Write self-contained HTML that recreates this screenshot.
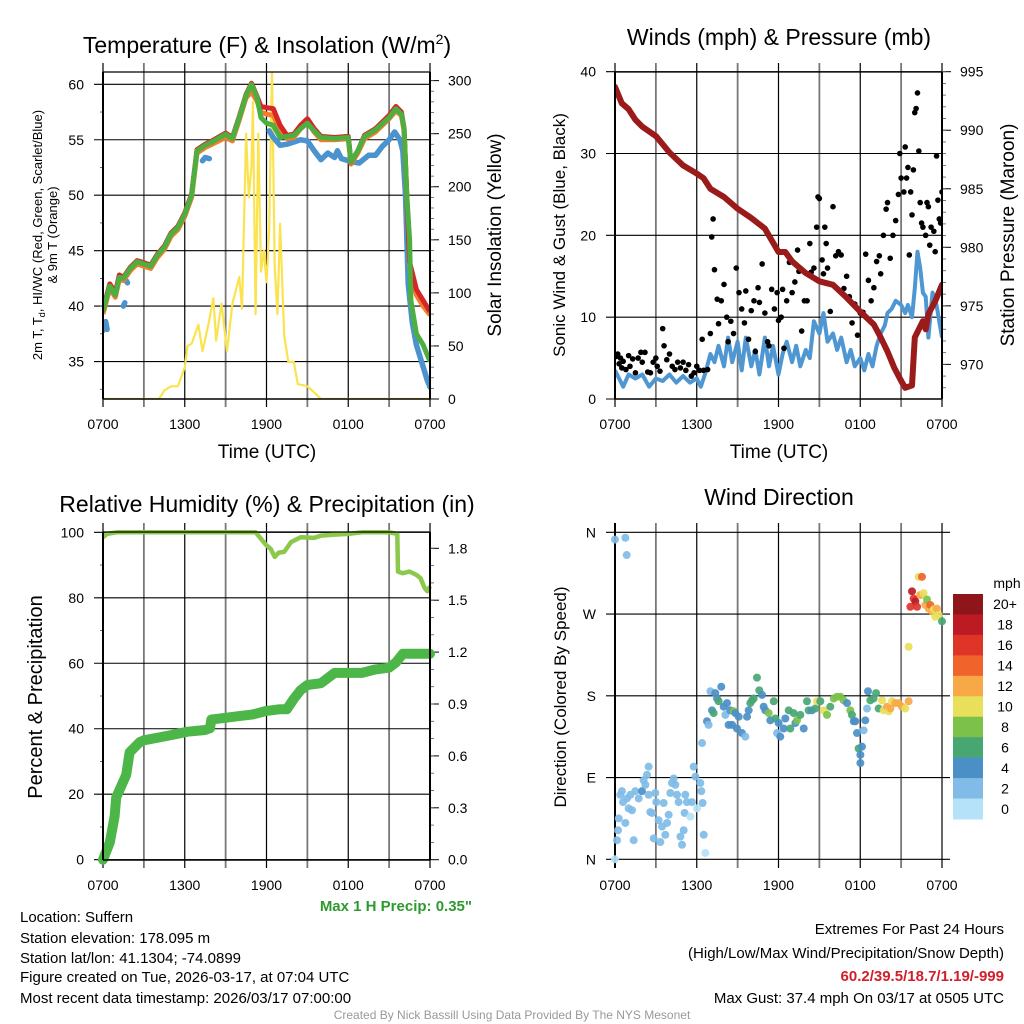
<!DOCTYPE html>
<html><head><meta charset="utf-8"><style>
html,body{margin:0;padding:0;background:#fff;}
svg{display:block;font-family:"Liberation Sans",sans-serif;}
</style></head><body>
<svg id="fig" width="1024" height="1024" viewBox="0 0 1024 1024" xmlns="http://www.w3.org/2000/svg">
<rect width="1024" height="1024" fill="#fff"/>
<defs>
<clipPath id="c1"><rect x="103" y="72" width="327" height="327"/></clipPath>
<clipPath id="c2"><rect x="615" y="72" width="327" height="327"/></clipPath>
<clipPath id="c3"><rect x="103" y="532" width="327" height="328"/></clipPath>
<clipPath id="c4"><rect x="612" y="528" width="334" height="336"/></clipPath>
</defs>
<!-- titles -->
<text x="267" y="53" font-size="23" text-anchor="middle">Temperature (F) &amp; Insolation (W/m<tspan font-size="14" dy="-9">2</tspan><tspan dy="9">)</tspan></text>
<text x="779" y="45" font-size="23" text-anchor="middle">Winds (mph) &amp; Pressure (mb)</text>
<text x="267" y="512" font-size="23" text-anchor="middle">Relative Humidity (%) &amp; Precipitation (in)</text>
<text x="779" y="505" font-size="23" text-anchor="middle">Wind Direction</text>
<!-- axis titles -->
<text x="267" y="458" font-size="19" text-anchor="middle">Time (UTC)</text>
<text x="779" y="458" font-size="19" text-anchor="middle">Time (UTC)</text>
<text font-size="13" text-anchor="middle" transform="translate(42,235) rotate(-90)">2m T, T<tspan font-size="9" dy="3">d</tspan><tspan dy="-3">, HI/WC (Red, Green, Scarlet/Blue)</tspan></text>
<text font-size="13" text-anchor="middle" transform="translate(57,235) rotate(-90)">&amp; 9m T (Orange)</text>
<text font-size="19" text-anchor="middle" transform="translate(501,235) rotate(-90)">Solar Insolation (Yellow)</text>
<text font-size="17" text-anchor="middle" transform="translate(565,235) rotate(-90)">Sonic Wind &amp; Gust (Blue, Black)</text>
<text font-size="19" text-anchor="middle" transform="translate(1014,235) rotate(-90)">Station Pressure (Maroon)</text>
<text font-size="20" text-anchor="middle" transform="translate(42,697) rotate(-90)">Percent &amp; Precipitation</text>
<text font-size="17" text-anchor="middle" transform="translate(566,697) rotate(-90)">Direction (Colored By Speed)</text>
<!-- footer -->
<text x="472" y="911" font-size="15" font-weight="bold" fill="#2e9a2e" text-anchor="end">Max 1 H Precip: 0.35"</text>
<g font-size="15">
<text x="20" y="922">Location: Suffern</text>
<text x="20" y="943">Station elevation: 178.095 m</text>
<text x="20" y="963">Station lat/lon: 41.1304; -74.0899</text>
<text x="20" y="982">Figure created on Tue, 2026-03-17, at 07:04 UTC</text>
<text x="20" y="1003">Most recent data timestamp: 2026/03/17 07:00:00</text>
</g>
<g font-size="15" text-anchor="end">
<text x="1004" y="934">Extremes For Past 24 Hours</text>
<text x="1004" y="958">(High/Low/Max Wind/Precipitation/Snow Depth)</text>
<text x="1004" y="981" fill="#d0202a" font-weight="bold">60.2/39.5/18.7/1.19/-999</text>
<text x="1004" y="1003">Max Gust: 37.4 mph On 03/17 at 0505 UTC</text>
</g>
<text x="512" y="1019" font-size="12" fill="#999" text-anchor="middle">Created By Nick Bassill Using Data Provided By The NYS Mesonet</text>
<g id="layer"></g>
</svg>
<script>
// ---------- Temperature panel data ----------
const tempTimes=[0,0.5,0.9,1.2,1.5,2,2.5,3,3.5,4,4.5,5,5.5,6,6.5,6.9,7.5,8,9,9.5,10,10.5,10.9,11.3,11.6,12,12.5,13,13.5,14,14.5,15,15.5,16,17,18,18.2,18.7,19.2,20,21,21.5,21.9,22.1,22.3,22.5,22.6,23,23.5,24];
const tempGreen=[39.5,41.8,41,42.6,42.5,43.4,44,43.8,43.6,44.6,45.3,46.5,47.1,48.3,50,54,54.5,54.8,55.5,55.1,57,59,60,58.8,57,56.5,56.3,55.2,55.3,55.4,56,56.5,55.8,55.2,55.1,55.2,53,54,55.3,55.9,57,57.8,57.3,56,50,46,40.5,37.5,36.5,35];
const tempRed=[39.7,42,41.2,42.8,42.6,43.5,44.1,43.9,43.7,44.7,45.4,46.6,47.2,48.4,50.1,54.1,54.6,54.9,55.6,55.2,57.1,59.1,60.1,58.9,58,57.9,57.8,56.3,55.4,55.5,56.3,56.9,56,55.3,55.2,55.3,53,54,55.4,56,57.2,58,57.5,56,50,44,43.5,41.5,40.5,39.5];
const tempOrange=[39.3,41.6,40.8,42.4,42.3,43.2,43.8,43.6,43.4,44.4,45.1,46.3,46.9,48.1,49.8,53.8,54.3,54.6,55.2,54.9,56.8,58.8,59.3,58.5,57.5,57.3,57.2,55.9,55.1,55.2,56,56.6,55.7,55,55,55.1,52.8,53.8,55.1,55.7,56.9,57.6,57.2,55.8,49.8,43.7,43,41,40,39.2];
const dewTimes=[0,0.1,0.2,0.3,0.35,1.5,1.6,1.65,1.7,1.8,1.85,7.3,7.5,7.8,8.0,12.2,12.5,13,13.5,14,14.5,15,15.5,16,16.5,17,17.2,17.5,18.3,18.8,19.5,20,20.5,21,21.4,21.8,22,22.2,22.4,22.7,23,23.5,23.8,24];
const dewVals=[37.8,38.3,38.6,37.9,null,40,40.3,null,42.3,42.1,null,53.1,53.4,53.3,null,55.8,55.2,54.5,54.6,54.8,55,54.9,54,53.2,53.8,53.4,54,53.3,53,52.9,53.6,53.6,54.4,55,55.7,55,54,50,42,38.5,36.5,34.5,33.3,32.7];
const solarTimes=[0,4.1,4.5,5,5.5,6,6.2,6.5,7,7.3,7.7,8.1,8.3,8.7,9.1,9.5,10,10.2,10.5,10.7,10.9,11,11.2,11.4,11.6,11.8,12,12.2,12.4,12.6,12.8,13,13.3,13.6,14,14.3,15,15.6,16,24];
const solarVals=[0,0,8,12,12,30,50,52,70,45,68,95,55,90,45,90,115,85,250,190,220,280,80,250,120,140,110,160,310,125,80,165,60,35,35,14,12,5,0,0];
const tempTicks=[35,40,45,50,55,60];
const solarTicks=[0,50,100,150,200,250,300];
const timeTickLabels=["0700","1300","1900","0100","0700"];
// ---------- Wind panel data ----------
const windTimes=[0,0.3,0.6,1,1.5,2,2.5,3,3.5,4,4.5,5,5.5,6,6.3,6.6,7,7.3,7.6,8,8.3,8.6,9,9.3,9.6,10,10.3,10.6,11,11.3,11.6,12,12.3,12.6,13,13.3,13.6,14,14.3,14.6,15,15.3,15.6,16,16.3,16.6,17,17.3,17.6,18,18.3,18.6,18.9,19.2,19.5,19.8,20,20.3,20.6,21,21.3,21.5,21.8,22,22.2,22.4,22.6,22.8,23,23.3,23.6,24];
const windVals=[3.5,2.5,1.5,3,2.5,3,1.5,2.5,2.2,3,2,2.8,2,2.5,1.5,3,5.5,4.5,6.5,4,7.5,4.5,7,3.5,7.5,4,6,3,7.5,4,6.5,3,5.5,7,4.5,6.5,4,6,5,9.5,8,10.5,7,8,6,7.5,4.5,6,4,5,3.5,5.5,4,6.5,8,9,10.5,11,12,11.5,10.5,11.5,10,13.5,18,16,13,12.5,7.5,13,11.5,7.5];
const gustTimes=[0.1,0.2,0.3,0.4,0.5,0.6,0.8,1,1.1,1.3,1.5,1.7,1.9,2,2.2,2.4,2.6,2.8,3,3.1,3.3,3.5,3.6,3.8,4,4.2,4.4,4.6,4.8,5,5.2,5.4,5.6,5.8,6,6.2,6.4,6.5,6.8,7,7.1,7.2,7.3,7.5,7.6,7.8,8,8.2,8.3,8.5,8.7,8.9,9.1,9.3,9.5,9.6,9.8,10,10.2,10.3,10.5,10.6,10.8,11,11.2,11.3,11.5,11.7,11.9,12,12.2,12.3,12.4,12.6,12.8,13,13.2,13.4,13.5,13.7,13.9,14.1,14.3,14.4,14.6,14.8,14.9,15,15.2,15.3,15.4,15.5,15.6,15.8,16,16.2,16.4,16.6,16.8,17,17.2,17.4,17.6,17.8,18,18.2,18.4,18.6,18.8,19,19.2,19.4,19.5,19.7,19.9,20,20.2,20.4,20.6,20.8,20.9,21,21.2,21.3,21.4,21.5,21.6,21.7,21.8,21.9,22,22.1,22.2,22.3,22.4,22.5,22.6,22.8,22.9,23,23.1,23.2,23.4,23.5,23.6,23.7,23.8,23.9,24];
const gustVals=[5.2,5.5,4.3,5,3.8,4.6,3.6,5.3,4,4.9,3.2,5,5.7,4.5,5.7,3.3,3.2,4.5,5,4,3.4,8.6,6.5,4.8,5.5,4,3.6,4.5,3.8,4.5,3.5,4.2,2.8,3.2,4,3.5,7.3,3.5,3.6,8,19.8,22,15.8,12.2,9.2,12,14,10,7,9.5,8,16,13,11,9.3,13.2,7.3,10.8,12,5.8,13.6,11.8,16.5,10.5,7,6.5,13.4,11,13,9.6,10,13.4,6.2,12,16.7,13,14.3,18.2,15.6,8.3,12,12,19,15.5,16,21,24.7,24.5,17,15.3,21,19,16,10.7,23.5,17.5,18,17.6,13.5,15,12.5,9.3,11.6,7.8,10.5,10.6,17.7,14.5,12,13.6,16.8,17.5,15.3,20,23.2,24,17.2,20,21.8,25,30,27,25.3,30.8,27,28.3,17.6,25.3,22.5,28,35,35.5,37.4,30.3,24,21.5,21,20,24,23.5,18.8,21,20.5,18,29.7,24.3,22,21.5,25.3];
const pressTimes=[0,0.5,1,1.5,2,3,4,5,6,6.5,7,8,9,10,11,12,12.5,13,14,15,16,17,18,19,19.5,20,20.5,21,21.3,21.8,22,22.3,22.6,22.8,23,23.5,24];
const pressVals=[993.7,992.3,991.8,990.9,990.3,989.5,988.1,987,986.3,985.9,985,984.3,983.3,982.5,981.6,979.6,979.6,978.8,977.8,977.1,976.8,975.7,974.5,973.4,972.3,971.1,969.7,968.6,968,968.2,972.3,973,973.7,973,974.3,975.4,976.8];
const windTicks=[0,10,20,30,40];
const pressTicks=[970,975,980,985,990,995];
// ---------- Humidity panel data ----------
const rhTimes=[0,0.3,1,6,11.2,11.6,12,12.3,12.6,12.9,13.3,13.8,14.5,15.5,16,17,18,19,21,21.6,21.65,22,22.5,23,23.3,23.6,23.8,24];
const rhVals=[98.5,99.5,100,100,100,98,96,95,92.5,93.8,94,97,98.5,98.3,99,99.3,99.5,100,100,99.5,88,87.5,88,87,86,83,82,83.5];
const precipTimes=[0,0.5,0.85,0.97,1.7,1.95,2.7,3,5,6.2,7.5,7.85,7.95,10,11,12,13,13.5,14,14.5,15,16,17,18,19,20,21,21.5,22,24];
const precipVals=[0,0.10,0.25,0.36,0.49,0.62,0.68,0.69,0.72,0.74,0.75,0.76,0.81,0.83,0.84,0.86,0.87,0.87,0.93,0.98,1.01,1.02,1.08,1.08,1.08,1.10,1.11,1.14,1.19,1.19];
const rhTicks=[0,20,40,60,80,100];
const precipTicks=[0,0.3,0.6,0.9,1.2,1.5,1.8];
// ---------- Wind direction panel data ----------
const dirTimes=[0,0,0.76,0.86,0.27,0.22,0.15,0.39,0.51,0.59,0.76,0.88,1.0,1.13,1.25,1.37,1.49,1.74,1.98,2.1,2.23,2.35,2.47,2.47,2.59,2.72,2.84,2.96,3.03,3.2,3.33,3.45,3.57,3.69,3.82,3.94,4.06,4.18,4.31,4.43,4.55,4.67,4.8,4.92,5.04,5.11,5.16,5.28,5.53,5.65,5.77,5.9,6.02,6.26,6.34,6.43,6.51,6.63,
6.39,6.75,6.87,7.0,7.12,7.24,7.36,7.49,7.61,7.8,7.98,8.1,8.22,8.34,8.46,8.59,8.71,8.83,8.95,9.08,9.32,9.57,9.69,9.81,9.93,10.06,10.18,10.42,10.59,10.79,10.91,11.03,11.28,11.4,11.65,11.77,11.89,12.01,12.13,12.38,12.5,12.75,12.87,13.11,13.24,13.36,13.6,13.85,14.09,14.21,14.46,14.7,14.83,15.07,15.32,15.56,15.8,16.05,16.29,16.54,16.78,17.03,17.27,17.39,17.52,17.64,17.76,17.88,18.01,18.01,18.13,18.25,18.37,18.5,18.57,18.74,18.98,19.16,19.35,19.6,19.72,19.96,20.09,20.21,20.33,20.57,20.82,21.06,21.31,21.55,
21.55,21.68,21.8,21.92,22.04,22.17,22.29,22.41,22.53,22.65,22.78,22.9,23.02,23.14,23.27,23.39,23.51,23.63,23.76,24.0];
const dirVals=[0,352,354,335,45,32,21,71,75,63,40,67,56,71,54,21,75,67,75,87,82,93,102,71,52,51,23,73,63,43,19,36,62,27,40,49,73,84,89,82,71,63,25,16,32,51,71,63,47,63,102,91,56,84,75,62,27,7,
128,152,148,185,164,161,183,177,174,190,168,159,172,148,164,148,163,161,144,157,139,135,157,164,172,175,177,200,186,181,168,164,161,153,174,155,139,150,135,144,155,164,144,161,150,153,159,144,174,164,164,166,174,174,164,159,168,177,179,179,175,172,164,159,152,152,139,122,115,106,124,142,153,166,185,175,177,183,166,175,164,168,163,166,174,172,172,168,166,174,
234,278,295,287,284,278,311,291,311,293,280,286,276,280,273,275,267,276,269,262];
const dirSpeeds=[1,3,3,3,3,3,3,3,3,3,3,3,3,3,3,3,3,3,5,3,3,3,3,3,3,3,3,3,3,3,3,3,3,3,3,3,3,3,3,3,3,3,3,3,3,3,3,3,1,3,3,3,1,3,3,3,3,1,
3,5,3,3,5,7,5,5,7,5,5,3,5,5,5,5,9,5,5,5,5,3,5,5,7,7,7,7,7,5,5,5,9,5,7,7,3,5,5,5,5,7,7,7,5,9,7,5,7,7,5,7,11,7,11,9,7,9,9,9,9,5,9,7,5,5,5,7,5,5,5,3,5,3,5,7,7,7,7,11,11,13,11,13,11,13,13,13,11,13,
11,17,19,17,19,17,11,13,15,11,13,9,13,15,13,11,11,13,11,7];
const speedLabels=["0","2","4","6","8","10","12","14","16","18","20+"];
const speedColors=["#b5e2f8","#80bce7","#4b8fc7","#48a673","#7cc14a","#e8e05a","#f7a946","#f0642c","#df3428","#bc1b24","#8e1519"];
const dirTickLabels=["N","E","S","W","N"];
const dirTickVals=[0,90,180,270,360];

const NS="http://www.w3.org/2000/svg";
const layer=document.getElementById('layer');
function mk(tag,attrs,parent){const e=document.createElementNS(NS,tag);for(const k in attrs)e.setAttribute(k,attrs[k]);(parent||layer).appendChild(e);return e;}
function xs(x0,x1){return t=>x0+t*(x1-x0)/24;}
function path(ts,vs,fx,fy){let d="",pen=false;const n=Math.min(ts.length,vs.length);for(let i=0;i<n;i++){if(vs[i]===null){pen=false;continue;}d+=(pen?"L":"M")+fx(ts[i]).toFixed(1)+" "+fy(vs[i]).toFixed(1);pen=true;}return d;}

function frame(x0,x1,yt,yb,name){
  const g=mk('g',{});
  
  
  // vertical grid every 3 hours
  for(let i=0;i<=8;i++){const x=x0+i*(x1-x0)/8;
    const l=mk('line',{x1:x,x2:x,y1:yt-9,y2:yb+8,stroke:i%2?'#777':'#000','stroke-width':i%2?1.8:1.2},g);
    
    }
  return g;
}
function xLabels(x0,x1,y,g){timeTickLabels.forEach((s,i)=>{const t=mk('text',{x:x0+i*(x1-x0)/4,y:y,'font-size':14,'text-anchor':'middle'},g);t.textContent=s;
  
  });}
function hGrid(vals,fy,x0,x1,g,labX,anchor,fmt,tickLen){vals.forEach(v=>{const y=fy(v);
  const l=mk('line',{x1:x0-tickLen,x2:x1,y1:y,y2:y,stroke:'#000','stroke-width':1.1},g);
  
  
  const t=mk('text',{x:labX,y:y+5,'font-size':14,'text-anchor':anchor},g);t.textContent=fmt(v);
  
  });}
function rTicks(vals,fy,x1,g,fmt,labX){vals.forEach(v=>{const y=fy(v);
  mk('line',{x1:x1,x2:x1+9,y1:y,y2:y,stroke:'#000','stroke-width':1},g);
  const t=mk('text',{x:labX,y:y+5,'font-size':14},g);t.textContent=fmt(v);
  
  });}
function minor(x,y0,y1,step,len,g){for(let y=y0;y<=y1;y+=step)mk('line',{x1:x,x2:x+len,y1:y,y2:y,stroke:'#444','stroke-width':0.8},g);}
function borders(x0,x1,yt,yb,g){mk('line',{x1:x0,x2:x1,y1:yt,y2:yt,stroke:'#000','stroke-width':1.2},g);
  mk('line',{x1:x0,x2:x0,y1:yt,y2:yb,stroke:'#000','stroke-width':2},g);
  mk('line',{x1:x1,x2:x1,y1:yt,y2:yb,stroke:'#000','stroke-width':2},g);
  mk('line',{x1:x0,x2:x1,y1:yb,y2:yb,stroke:'#000','stroke-width':1.5},g);}

// ===== Panel 1 =====
{const x0=103,x1=430,yt=72,yb=399;const fx=xs(x0,x1);
 const fy=v=>84.3+(60-v)*11.09; const fr=v=>399-v*1.0613;
 const g=frame(x0,x1,yt,yb,'temperature');
 hGrid(tempTicks,fy,x0,x1,g,84,'end',v=>v,9);
 minor(x0-3,fy(60)+fy(57.5)-fy(60),yb,fy(57.5)-fy(60)+0.001,3,g);
 rTicks(solarTicks,fr,x1,g,v=>v,448);
 for(let v=10;v<=300;v+=10){const y=fr(v);mk('line',{x1:x1,x2:x1+4,y1:y,y2:y,stroke:'#555','stroke-width':0.8},g);}
 xLabels(x0,x1,429,g);
 const c=mk('g',{'clip-path':'url(#c1)'});
 const s1=mk('path',{d:path(solarTimes,solarVals,fx,fr),fill:'none',stroke:'#fbe34f','stroke-width':2.2,'stroke-linejoin':'round'},c);
 
 
 const s2=mk('path',{d:path(dewTimes,dewVals,fx,fy),fill:'none',stroke:'#4b93cf','stroke-width':5.5,'stroke-linecap':'round','stroke-linejoin':'round'},c);
 
 
 const s3=mk('path',{d:path(tempTimes,tempOrange,fx,fy),fill:'none',stroke:'#f47c2c','stroke-width':5,'stroke-linejoin':'round'},c);
 
 
 const s4=mk('path',{d:path(tempTimes,tempRed,fx,fy),fill:'none',stroke:'#d62628','stroke-width':5,'stroke-linejoin':'round'},c);
 
 
 const s5=mk('path',{d:path(tempTimes,tempGreen,fx,fy),fill:'none',stroke:'#4caf3f','stroke-width':5,'stroke-linejoin':'round'},c);
 
 
 borders(x0,x1,yt,yb,layer);
}
// ===== Panel 2 =====
{const x0=615,x1=942,yt=72,yb=399;const fx=xs(x0,x1);
 const fy=v=>399-v*8.183; const fr=p=>71.7+(995-p)*11.707;
 const g=frame(x0,x1,yt,yb,'winds');
 hGrid(windTicks,fy,x0,x1,g,596,'end',v=>v,9);
 rTicks(pressTicks,fr,x1,g,v=>v,960);
 for(let p=968;p<=995;p+=1){const y=fr(p);mk('line',{x1:x1,x2:x1+4,y1:y,y2:y,stroke:'#555','stroke-width':0.8},g);}
 xLabels(x0,x1,429,g);
 const c=mk('g',{'clip-path':'url(#c2)'});
 const w=mk('path',{d:path(windTimes,windVals,fx,fy),fill:'none',stroke:'#4f97d2','stroke-width':4,'stroke-linejoin':'round'},c);
 
 
 const n=Math.min(gustTimes.length,gustVals.length);
 for(let i=0;i<n;i++){const d=mk('circle',{cx:fx(gustTimes[i]),cy:fy(gustVals[i]),r:2.8,fill:'#000'},c);
  
  }
 const p=mk('path',{d:path(pressTimes,pressVals,fx,fr),fill:'none',stroke:'#9b1b1b','stroke-width':6,'stroke-linejoin':'round','stroke-linecap':'round'},c);
 
 
 borders(x0,x1,yt,yb,layer);
}
// ===== Panel 3 =====
{const x0=103,x1=430,yt=532,yb=860;const fx=xs(x0,x1);
 const fy=v=>859.7-v*3.274; const fr=v=>859.7-v*173;
 const g=frame(x0,x1,yt,yb,'humidity');
 hGrid(rhTicks,fy,x0,x1,g,84,'end',v=>v,9);
 for(let v=10;v<100;v+=20){const y=fy(v);mk('line',{x1:x0-3,x2:x0,y1:y,y2:y,stroke:'#444','stroke-width':0.8},g);}
 rTicks(precipTicks,fr,x1,g,v=>v.toFixed(1),448);
 for(let v=0.1;v<1.9;v+=0.1){const y=fr(v);mk('line',{x1:x1,x2:x1+4,y1:y,y2:y,stroke:'#555','stroke-width':0.8},g);}
 xLabels(x0,x1,890,g);
 const c=mk('g',{'clip-path':'url(#c3)'});
 const r=mk('path',{d:path(rhTimes,rhVals,fx,fy),fill:'none',stroke:'#8cc84b','stroke-width':4.5,'stroke-linejoin':'round'},layer);
 
 
 const pr=mk('path',{d:path(precipTimes,precipVals,fx,fr),fill:'none',stroke:'#4cb648','stroke-width':10,'stroke-linejoin':'round','stroke-linecap':'round'},layer);
 
 
 borders(x0,x1,yt,yb,layer);
}
// ===== Panel 4 =====
{const x0=615,x1=942,yt=532,yb=860;const fx=xs(x0,x1);
 const fy=d=>859.3-d*0.9083;
 const g=frame(x0,x1,yt,yb,'wind-direction');
 dirTickVals.forEach((v,i)=>{const y=fy(v);
  const l=mk('line',{x1:x0-9,x2:x1+8,y1:y,y2:y,stroke:'#000','stroke-width':1.1},g);
  
  
  const t=mk('text',{x:596,y:y+5,'font-size':14,'text-anchor':'end'},g);t.textContent=dirTickLabels[i];
  
  });
 xLabels(x0,x1,890,g);
 mk('line',{x1:x0,x2:x0,y1:yt-9,y2:yb+8,stroke:'#000','stroke-width':2},g);
 const n=Math.min(dirTimes.length,dirVals.length,dirSpeeds.length);
 for(let i=0;i<n;i++){const k=Math.min(10,Math.floor(dirSpeeds[i]/2));
  const d=mk('circle',{cx:fx(dirTimes[i]),cy:fy(dirVals[i]),r:4,fill:speedColors[k],'fill-opacity':0.92});
  
  }
 // colorbar
 const cb=mk('g',{});
 
 
 const top=594,bot=819,h=(bot-top)/speedColors.length;
 for(let i=0;i<speedColors.length;i++){const j=speedColors.length-1-i;
  const r=mk('rect',{x:953,y:top+i*h,width:30,height:h+0.5,fill:speedColors[j]},cb);
  
  
  const t=mk('text',{x:1005,y:top+i*h+h/2+5,'font-size':14,'text-anchor':'middle'},cb);t.textContent=speedLabels[j];
  
  }
 const u=mk('text',{x:1007,y:588,'font-size':14,'text-anchor':'middle'},cb);u.textContent='mph';
 
 
}
</script>
</body></html>
